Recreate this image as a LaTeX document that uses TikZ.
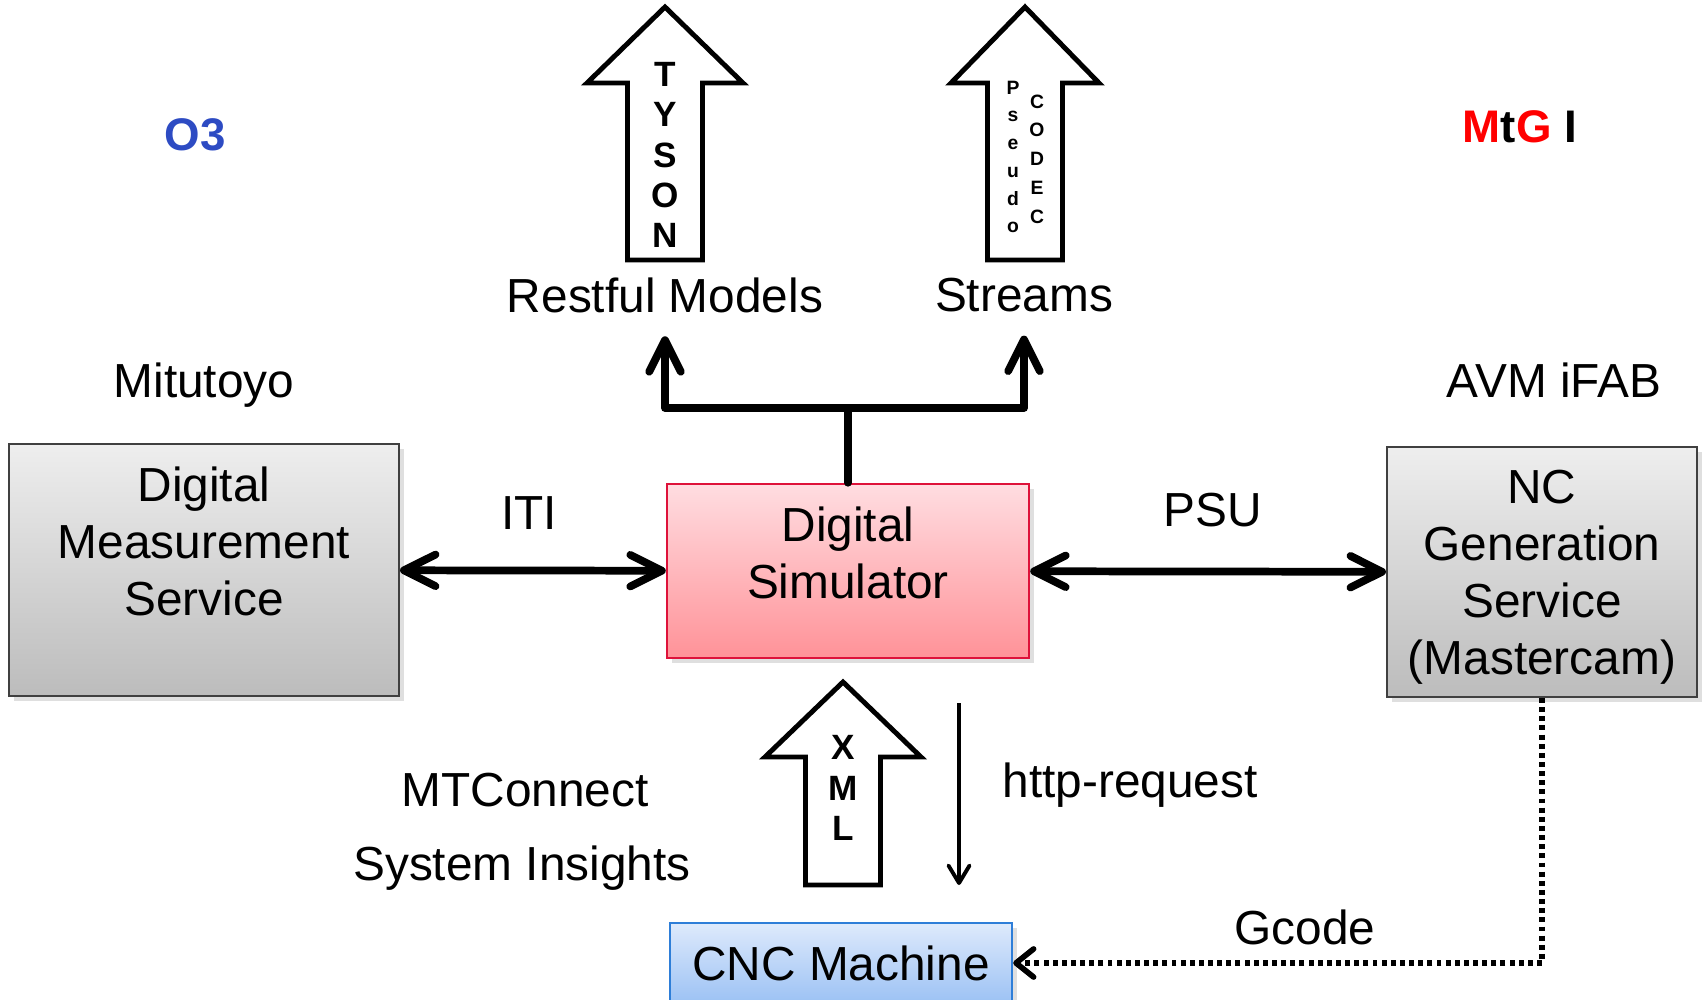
\documentclass[tikz,border=0pt]{standalone}
\usepackage{fontspec}
\setmainfont{Liberation Sans}
\usepackage{xcolor}
\usepackage{tikz}
\usetikzlibrary{arrows.meta, positioning, shadows}

\definecolor{graytop}{RGB}{238,238,238}
\definecolor{graybot}{RGB}{188,188,188}
\definecolor{simtop}{RGB}{255,221,225}
\definecolor{simbot}{RGB}{255,146,152}
\definecolor{simline}{RGB}{222,18,58}
\definecolor{cnctop}{RGB}{222,234,252}
\definecolor{cncbot}{RGB}{156,194,244}
\definecolor{cncline}{RGB}{46,126,216}
\definecolor{othree}{RGB}{45,75,195}

\begin{document}
\begin{tikzpicture}[
    x=0.1mm, y=-0.1mm,
    txt/.style={font=\fontsize{13.6}{16.2}\selectfont, align=center, inner sep=0pt},
    boldtxt/.style={font=\fontsize{13}{15}\selectfont\bfseries, inner sep=0pt},
    service/.style={rectangle, draw=black!75, line width=0.6pt, top color=graytop, bottom color=graybot,
        drop shadow={shadow xshift=1.5pt, shadow yshift=-1.5pt, opacity=0.25}},
    simbox/.style={rectangle, draw=simline, line width=0.7pt, top color=simtop, bottom color=simbot,
        drop shadow={shadow xshift=1.5pt, shadow yshift=-1.5pt, opacity=0.25}},
    cncbox/.style={rectangle, draw=cncline, line width=0.7pt, top color=cnctop, bottom color=cncbot,
        drop shadow={shadow xshift=1.5pt, shadow yshift=-1.5pt, opacity=0.25}},
    fat/.style={draw, line width=1.4pt, fill=white, line join=miter},
    bigletter/.style={font=\fontsize{10}{11.5}\selectfont\bfseries, align=center, inner sep=0pt},
    smallletter/.style={font=\fontsize{5.5}{7.9}\selectfont\bfseries, align=center, inner sep=0pt},
    conn/.style={line width=2.2pt, line cap=round, line join=round},
    biarrow/.style={conn, {Straight Barb[length=9pt, width=9pt, round]}-{Straight Barb[length=9pt, width=9pt, round]}},
    uparrow/.style={conn, -{Straight Barb[length=9pt, width=9pt, round]}},
    thinarrow/.style={line width=1.1pt, -{Straight Barb[length=5pt, width=6pt, round]}},
    dotlink/.style={line width=1.6pt, dash pattern=on 1.4pt off 1.2pt, -{Straight Barb[length=5pt, width=8pt, round]}}
]
\useasboundingbox (0,0) rectangle (1703,1000);

% boxes
\node[service, minimum width=3.9cm, minimum height=2.52cm] (dms) at (204,570) {};
\node[txt, anchor=north] (dmstext) at (204,466) {Digital\\Measurement\\Service};
\node[simbox, minimum width=3.62cm, minimum height=1.74cm] (sim) at (848,571) {};
\node[txt, anchor=north] (simtext) at (848,506) {Digital\\Simulator};
\node[service, minimum width=3.1cm, minimum height=2.5cm] (ncg) at (1542,572) {};
\node[txt] (ncgtext) at (1542,577) {NC\\Generation\\Service\\(Mastercam)};
\node[cncbox, txt, minimum width=3.42cm, minimum height=0.8cm] (cnc) at (841,963) {CNC Machine};

% block arrows
\draw[fat] (665,7) -- (743,83) -- (702.5,83) -- (702.5,260) -- (627.5,260) -- (627.5,83) -- (587,83) -- cycle;
\draw[fat] (1025,7) -- (1099,83) -- (1062.5,83) -- (1062.5,260) -- (987.5,260) -- (987.5,83) -- (951,83) -- cycle;
\draw[fat] (843,682) -- (921,757) -- (880.5,757) -- (880.5,885) -- (805.5,885) -- (805.5,757) -- (765,757) -- cycle;
\node[bigletter] (tyson) at (665,155) {T\\Y\\S\\O\\N};
\node[smallletter] (pseudo) at (1013,157) {P\\s\\e\\u\\d\\o};
\node[smallletter, font=\fontsize{5.5}{8.2}\selectfont\bfseries] (codec) at (1037,159) {C\\O\\D\\E\\C};
\node[bigletter] (xml) at (843,788) {X\\M\\L};

% labels
\node[txt] (rm) at (665,295) {Restful Models};
\node[txt] (st) at (1024,295) {Streams};
\node[txt, above=0.35cm of dms] (mit) {Mitutoyo};
\node[txt] (avm) at (1554,380) {AVM iFAB};
\node[boldtxt, text=othree] (othreelbl) at (195,135) {O3};
\node[boldtxt] (mtg) at (1520,127) {\textcolor{red}{M}t\textcolor{red}{G} I};
\node[txt] (iti) at (529,513) {ITI};
\node[txt] (psu) at (1213,510) {PSU};
\node[txt] (mtc) at (525,790) {MTConnect};
\node[txt] (si) at (522,868) {System Insights};
\node[txt] (http) at (1130,785) {http-request};
\node[txt] (gcode) at (1305,927) {Gcode};

% connectors
\draw[biarrow] (dms) -- (sim);
\draw[biarrow] (sim) -- (ncg);
\coordinate (fork) at (848,408);
\draw[conn] (sim.north) -- (fork);
\draw[uparrow] (fork) -| ([yshift=-0.23cm]rm.south);
\draw[uparrow] (fork) -| ([yshift=-0.23cm]st.south);
\coordinate (httptop) at (959,703);
\coordinate (httpbot) at (959,885);
\draw[thinarrow] (httptop) -- (httpbot);
\draw[dotlink] (ncg.south) |- (cnc.east);

\end{tikzpicture}
\end{document}
